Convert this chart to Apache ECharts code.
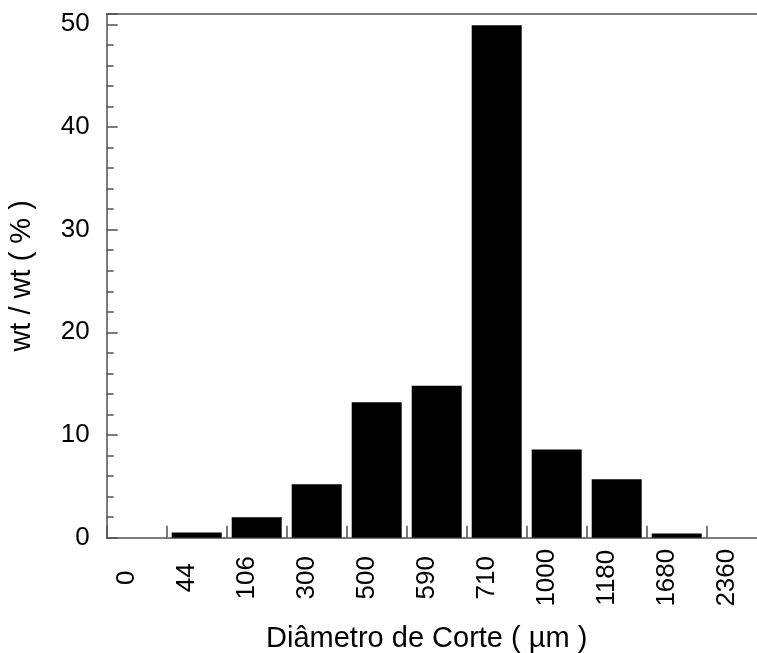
<!DOCTYPE html>
<html>
<head>
<meta charset="utf-8">
<script src="https://cdn.jsdelivr.net/npm/echarts@6/dist/echarts.min.js"></script>
<style>
  html, body { margin: 0; padding: 0; background: #fff; }
  #chart { width: 757px; height: 653px; }
</style>
</head>
<body>
<div id="chart"></div>
<script>
// Sieve cut diameters (µm) and retained mass fraction (wt/wt %)
var cutDiameters = ['0', '44', '106', '300', '500', '590', '710', '1000', '1180', '1680', '2360'];
var massPercent = [0, 0.5, 2.0, 5.2, 13.2, 14.8, 49.9, 8.6, 5.7, 0.4, 0];
var yTicks = [0, 10, 20, 30, 40, 50];

var FONT = '"Liberation Sans", Arial, Helvetica, sans-serif';
var AXIS_COLOR = '#505050';

var chart = echarts.init(document.getElementById('chart'), null, { renderer: 'canvas' });

chart.setOption({
  animation: false,
  backgroundColor: '#ffffff',
  textStyle: { fontFamily: FONT, color: '#000' },
  grid: {
    left: 106.7,
    top: 14,
    right: -9.7,
    bottom: 115.3,
    containLabel: false,
    outerBoundsMode: 'none'
  },
  xAxis: [
    {
      type: 'category',
      data: cutDiameters,
      position: 'bottom',
      boundaryGap: true,
      name: 'Diâmetro de Corte ( µm )',
      nameLocation: 'middle',
      nameGap: 87,
      nameTextStyle: {
        fontFamily: FONT,
        fontSize: 29,
        color: '#000',
        padding: [0, 20, 0, 0]
      },
      axisLine: { show: true, lineStyle: { color: AXIS_COLOR, width: 1.5 } },
      axisTick: {
        show: true,
        inside: true,
        length: 12,
        alignWithLabel: false,
        lineStyle: { color: AXIS_COLOR, width: 1.5 }
      },
      axisLabel: {
        show: true,
        interval: 0,
        rotate: 90,
        align: 'center',
        verticalAlign: 'middle',
        margin: 40,
        fontFamily: FONT,
        fontSize: 26,
        color: '#000',
        // a short blank second line nudges each rotated label off the category centre
        formatter: function (v) {
          return '{t|' + v + '}\n{s| }';
        },
        rich: {
          t: { fontFamily: FONT, fontSize: 26, lineHeight: 26, color: '#000' },
          s: { fontSize: 2, lineHeight: 19 }
        }
      },
      splitLine: { show: false }
    },
    {
      type: 'category',
      data: cutDiameters,
      position: 'top',
      axisLine: { show: true, lineStyle: { color: AXIS_COLOR, width: 1.5 } },
      axisTick: { show: false },
      axisLabel: { show: false },
      splitLine: { show: false }
    }
  ],
  yAxis: {
    type: 'value',
    min: 0,
    max: 51,
    interval: 10,
    name: 'wt / wt ( % )',
    nameLocation: 'middle',
    nameGap: 70,
    nameTextStyle: { fontFamily: FONT, fontSize: 29, color: '#000' },
    axisLine: { show: true, lineStyle: { color: AXIS_COLOR, width: 1.5 } },
    axisTick: {
      show: true,
      inside: true,
      length: 11,
      lineStyle: { color: AXIS_COLOR, width: 1.5 }
    },
    minorTick: {
      show: true,
      splitNumber: 5,
      length: 7,
      lineStyle: { color: AXIS_COLOR, width: 1.5 }
    },
    axisLabel: {
      show: true,
      margin: 17,
      fontFamily: FONT,
      fontSize: 26,
      color: '#000',
      showMaxLabel: false,
      formatter: function (v) {
        return yTicks.indexOf(v) >= 0 ? String(v) : '';
      }
    },
    splitLine: { show: false },
    minorSplitLine: { show: false }
  },
  series: [
    {
      type: 'bar',
      xAxisIndex: 0,
      data: massPercent,
      barWidth: 50,
      itemStyle: { color: '#000' },
      label: { show: false }
    }
  ]
});
</script>
</body>
</html>
